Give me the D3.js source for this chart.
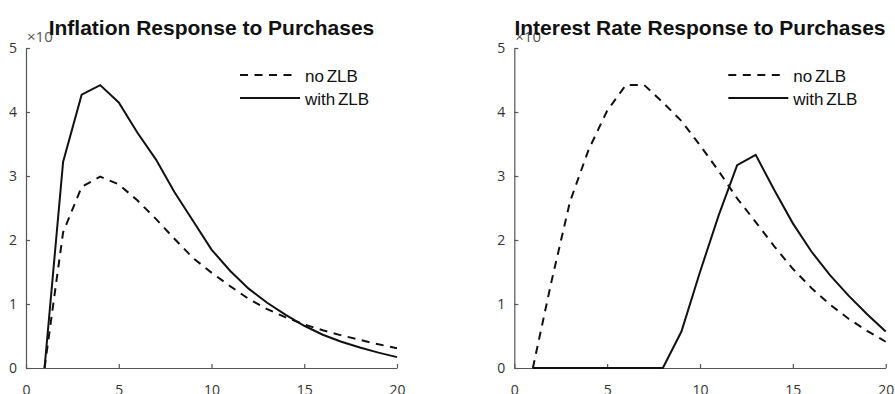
<!DOCTYPE html>
<html>
<head>
<meta charset="utf-8">
<script src="https://cdn.jsdelivr.net/npm/d3@7/dist/d3.min.js"></script>
<style>
  html, body { margin: 0; padding: 0; background: #fff; }
  svg { display: block; }
</style>
</head>
<body>
<svg id="chart" width="895" height="394"></svg>
<script>
// Horizon (quarters after the purchase shock)
const periods = [1, 2, 3, 4, 5, 6, 7, 8, 9, 10, 11, 12, 13, 14, 15, 16, 17, 18, 19, 20];

// Inflation response (×10^-3)
const inflationNoZLB   = [0, 2.12, 2.83, 2.99, 2.87, 2.62, 2.33, 2.02, 1.72, 1.49, 1.28, 1.08, 0.92, 0.79, 0.68, 0.59, 0.51, 0.44, 0.37, 0.31];
const inflationWithZLB = [0, 3.22, 4.27, 4.42, 4.15, 3.68, 3.26, 2.75, 2.30, 1.85, 1.52, 1.24, 1.02, 0.83, 0.66, 0.52, 0.41, 0.32, 0.24, 0.17];

// Interest rate response (×10^-3)
const interestNoZLB   = [0, 1.35, 2.60, 3.41, 4.02, 4.42, 4.42, 4.15, 3.86, 3.48, 3.08, 2.65, 2.28, 1.90, 1.55, 1.25, 0.99, 0.77, 0.58, 0.41];
const interestWithZLB = [0, 0, 0, 0, 0, 0, 0, 0, 0.57, 1.50, 2.38, 3.17, 3.33, 2.78, 2.26, 1.82, 1.45, 1.13, 0.84, 0.57];

const xTicks = [0, 5, 10, 15, 20];
const yTicks = [0, 1, 2, 3, 4, 5];
const seriesLabels = ["no ZLB", "with ZLB"];
const titles = ["Inflation Response to Purchases", "Interest Rate Response to Purchases"];
const exponentLabel = "\u00d710";

const svg = d3.select("#chart");

const panels = [
  { left: 26,    right: 397,   title: titles[0], noZLB: inflationNoZLB, withZLB: inflationWithZLB },
  { left: 514.3, right: 885.7, title: titles[1], noZLB: interestNoZLB,  withZLB: interestWithZLB }
];

const plotTop = 48, plotBottom = 368;
const dash = "8,6.5";
const tickFont = "'Open Sans', 'DejaVu Sans', sans-serif";

panels.forEach(p => {
  const g = svg.append("g");
  const x = d3.scaleLinear().domain([0, 20]).range([p.left, p.right]);
  const y = d3.scaleLinear().domain([0, 5]).range([plotBottom, plotTop]);

  // axes: inward ticks, left and bottom only
  const yAxis = g.append("g")
    .attr("transform", `translate(${p.left},0)`)
    .call(d3.axisLeft(y).tickValues(yTicks).tickFormat(d3.format("d"))
      .tickSizeInner(-4).tickSizeOuter(0).tickPadding(9));
  const xAxis = g.append("g")
    .attr("transform", `translate(0,${plotBottom})`)
    .call(d3.axisBottom(x).tickValues(xTicks).tickFormat(d3.format("d"))
      .tickSizeInner(-4).tickSizeOuter(0).tickPadding(17));

  [yAxis, xAxis].forEach(a => {
    a.select(".domain").attr("stroke", "#555").attr("stroke-width", 1.2);
    a.selectAll(".tick line").attr("stroke", "#555").attr("stroke-width", 1.2);
    a.selectAll(".tick text")
      .attr("fill", "#333")
      .style("font-family", tickFont)
      .style("font-size", "14px");
  });

  // exponent marker at the top of the y axis
  g.append("text")
    .attr("x", p.left + 1)
    .attr("y", 42)
    .attr("fill", "#555")
    .style("font-family", tickFont)
    .style("font-size", "15px")
    .text(exponentLabel);

  const line = d3.line()
    .x((d, i) => x(periods[i]))
    .y(d => y(d));

  g.append("path")
    .datum(p.noZLB)
    .attr("d", line)
    .attr("fill", "none")
    .attr("stroke", "#111")
    .attr("stroke-width", 2)
    .attr("stroke-dasharray", dash);

  g.append("path")
    .datum(p.withZLB)
    .attr("d", line)
    .attr("fill", "none")
    .attr("stroke", "#111")
    .attr("stroke-width", 2);

  // legend
  const lx = p.left + 214;
  const leg = g.append("g");
  leg.append("line")
    .attr("x1", lx).attr("x2", lx + 53).attr("y1", 75).attr("y2", 75)
    .attr("stroke", "#111").attr("stroke-width", 2).attr("stroke-dasharray", dash);
  leg.append("line")
    .attr("x1", lx).attr("x2", lx + 60).attr("y1", 98).attr("y2", 98)
    .attr("stroke", "#111").attr("stroke-width", 2);
  leg.selectAll("text.lab")
    .data(seriesLabels)
    .join("text")
    .attr("class", "lab")
    .attr("x", lx + 65)
    .attr("y", (d, i) => 82 + i * 23)
    .attr("fill", "#111")
    .style("font-family", "'Liberation Sans', Arial, sans-serif")
    .style("font-size", "17px")
    .style("word-spacing", "-2px")
    .text(d => d);

  // title, drawn over the exponent marker
  g.append("text")
    .attr("x", (p.left + p.right) / 2)
    .attr("y", 35)
    .attr("text-anchor", "middle")
    .attr("fill", "#111")
    .style("font-family", "'Liberation Sans', Arial, sans-serif")
    .style("font-weight", "bold")
    .style("font-size", "21px")
    .text(p.title);
});
</script>
</body>
</html>
